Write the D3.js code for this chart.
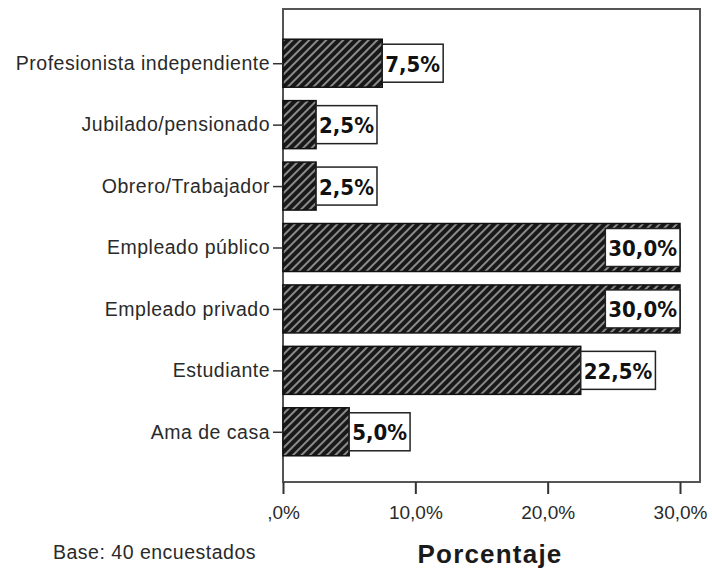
<!DOCTYPE html>
<html>
<head>
<meta charset="utf-8">
<script src="https://cdn.jsdelivr.net/npm/d3@7"></script>
<style>
  body { margin: 0; background: #fff; }
  svg { display: block; }
</style>
</head>
<body>
<svg id="chart" width="712" height="573"></svg>
<script>
// data, top to bottom as in the chart
const categories = ["Profesionista independiente", "Jubilado/pensionado", "Obrero/Trabajador",
                    "Empleado público", "Empleado privado", "Estudiante", "Ama de casa"];
const percents = [7.5, 2.5, 2.5, 30.0, 30.0, 22.5, 5.0];
const xTicks = [0, 10, 20, 30];
const xTickLabels = [",0%", "10,0%", "20,0%", "30,0%"];

const svg = d3.select("#chart");
const frame = { left: 283, top: 9, right: 700, bottom: 482 };

const x = d3.scaleLinear().domain([0, 30]).range([frame.left, 680]);
const y = d3.scalePoint().domain(categories).range([frame.top + 2, frame.bottom + 2]).padding(0.85);
const barH = 48;

// hatch pattern
const defs = svg.append("defs");
const pat = defs.append("pattern")
    .attr("id", "hatch")
    .attr("patternUnits", "userSpaceOnUse")
    .attr("width", 6).attr("height", 6)
    .attr("patternTransform", "rotate(45)");
pat.append("rect").attr("width", 6).attr("height", 6).attr("fill", "#181818");
pat.append("rect").attr("x", 0).attr("width", 2).attr("height", 6).attr("fill", "#8a8a8a");

// frame
svg.append("rect")
    .attr("x", frame.left).attr("y", frame.top)
    .attr("width", frame.right - frame.left).attr("height", frame.bottom - frame.top)
    .attr("fill", "#fff").attr("stroke", "#555").attr("stroke-width", 2);

// bars
svg.selectAll("rect.bar").data(categories).enter().append("rect")
    .attr("class", "bar")
    .attr("x", x(0))
    .attr("y", d => y(d) - barH / 2)
    .attr("width", (d, i) => x(percents[i]) - x(0))
    .attr("height", barH)
    .attr("fill", "url(#hatch)")
    .attr("stroke", "#111").attr("stroke-width", 1.5);

// value labels
const lblFont = "bold 22px 'Liberation Sans Narrow', 'Arial Narrow', 'DejaVu Sans Condensed', sans-serif";
const lbl = svg.selectAll("g.lbl").data(categories).enter().append("g").attr("class", "lbl");
lbl.each(function(d, i) {
  const g = d3.select(this);
  const txt = percents[i].toFixed(1).replace(".", ",") + "%";
  const t = g.append("text")
      .text(txt)
      .style("font", lblFont)
      .attr("fill", "#111")
      .attr("dominant-baseline", "central");
  const w = t.node().getComputedTextLength() + 6;
  let bx = x(percents[i]);
  if (bx + w > frame.right - 4) bx = x(percents[i]) - w;
  const by = y(d) - 19;
  g.insert("rect", "text")
      .attr("x", bx).attr("y", by).attr("width", w).attr("height", 38)
      .attr("fill", "#fff").attr("stroke", "#222").attr("stroke-width", 1.5);
  t.attr("x", bx + 3).attr("y", y(d) + 1);
});

// y axis
const yAxis = svg.append("g")
    .attr("transform", `translate(${frame.left},0)`)
    .call(d3.axisLeft(y).tickSize(10).tickPadding(3));
yAxis.select(".domain").remove();
yAxis.selectAll("line").attr("stroke", "#333").attr("stroke-width", 1.5);
yAxis.selectAll("text")
    .style("font", "19.5px 'Liberation Sans', Arial, sans-serif")
    .style("letter-spacing", "0.5px")
    .attr("fill", "#2a2a2a");

// x axis
const xAxis = svg.append("g")
    .attr("transform", `translate(0,${frame.bottom})`)
    .call(d3.axisBottom(x).tickValues(xTicks).tickSize(12).tickPadding(12)
      .tickFormat((d, i) => xTickLabels[i]));
xAxis.select(".domain").remove();
xAxis.selectAll("line").attr("stroke", "#333").attr("stroke-width", 2);
xAxis.selectAll("text")
    .style("font", "19px 'Liberation Sans', Arial, sans-serif")
    .attr("fill", "#2a2a2a");

// titles
svg.append("text")
    .attr("x", 490).attr("y", 563)
    .attr("text-anchor", "middle")
    .style("font", "bold 26px 'Liberation Sans', Arial, sans-serif")
    .style("letter-spacing", "1.2px")
    .attr("fill", "#1a1a1a")
    .text("Porcentaje");

svg.append("text")
    .attr("x", 53).attr("y", 559)
    .style("font", "19.5px 'Liberation Sans', Arial, sans-serif")
    .style("letter-spacing", "0.5px")
    .attr("fill", "#2a2a2a")
    .text("Base: 40 encuestados");
</script>
</body>
</html>
